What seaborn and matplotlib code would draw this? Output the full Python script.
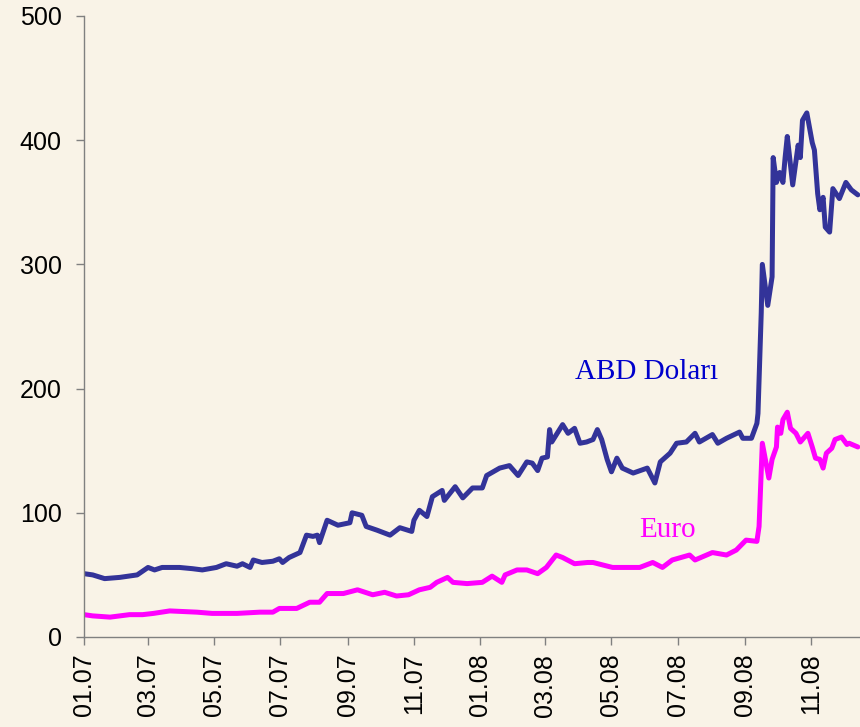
import matplotlib
matplotlib.use("Agg")
import matplotlib.pyplot as plt
import matplotlib.dates as mdates
import seaborn as sns
import pandas as pd

usd_dates = ["2007-01-01", "2007-01-09", "2007-01-20", "2007-02-03", "2007-02-19", "2007-03-01", "2007-03-07",
             "2007-03-14", "2007-03-30", "2007-04-11", "2007-04-20", "2007-05-03", "2007-05-12", "2007-05-22",
             "2007-05-27", "2007-06-03", "2007-06-06", "2007-06-14", "2007-06-24", "2007-06-30", "2007-07-03",
             "2007-07-09", "2007-07-19", "2007-07-25", "2007-07-31", "2007-08-04", "2007-08-06", "2007-08-13",
             "2007-08-23", "2007-09-03", "2007-09-05", "2007-09-14", "2007-09-18", "2007-09-28", "2007-10-10",
             "2007-10-19", "2007-10-30", "2007-11-01", "2007-11-06", "2007-11-13", "2007-11-18", "2007-11-27",
             "2007-11-29", "2007-12-09", "2007-12-16", "2007-12-25", "2008-01-03", "2008-01-07", "2008-01-19",
             "2008-01-28", "2008-02-05", "2008-02-13", "2008-02-18", "2008-02-23", "2008-02-27", "2008-03-03",
             "2008-03-05", "2008-03-07", "2008-03-17", "2008-03-22", "2008-03-28", "2008-04-02", "2008-04-08",
             "2008-04-14", "2008-04-18", "2008-04-22", "2008-04-27", "2008-05-01", "2008-05-06", "2008-05-11",
             "2008-05-21", "2008-06-03", "2008-06-10", "2008-06-15", "2008-06-24", "2008-06-30", "2008-07-09",
             "2008-07-17", "2008-07-21", "2008-08-02", "2008-08-07", "2008-08-15", "2008-08-27", "2008-08-30",
             "2008-09-07", "2008-09-12", "2008-09-13", "2008-09-16", "2008-09-17", "2008-09-22", "2008-09-26",
             "2008-09-27", "2008-09-30", "2008-10-03", "2008-10-06", "2008-10-08", "2008-10-10", "2008-10-15",
             "2008-10-20", "2008-10-22", "2008-10-24", "2008-10-28", "2008-11-02", "2008-11-04", "2008-11-07",
             "2008-11-09", "2008-11-12", "2008-11-14", "2008-11-18", "2008-11-21", "2008-11-27", "2008-12-03",
             "2008-12-08", "2008-12-14"]
usd_values = [51, 50, 47, 48, 50, 56, 54,
              56, 56, 55, 54, 56, 59, 57,
              59, 56, 62, 60, 61, 63, 60,
              64, 68, 82, 81, 82, 76, 94,
              90, 92, 100, 98, 89, 86, 82,
              88, 85, 94, 102, 97, 113, 118,
              110, 121, 112, 120, 120, 130, 136,
              138, 130, 141, 140, 134, 144, 145,
              167, 157, 171, 164, 168, 156, 157,
              159, 167, 159, 143, 133, 144, 136,
              132, 136, 124, 141, 148, 156, 157,
              164, 157, 163, 156, 160, 165, 160,
              160, 172, 180, 261, 300, 267, 290,
              386, 366, 374, 366, 386, 403, 364,
              396, 386, 416, 422, 398, 392, 357,
              344, 354, 330, 326, 361, 353, 366,
              360, 356]

eur_dates = ["2007-01-01", "2007-01-09", "2007-01-25", "2007-02-12", "2007-02-24", "2007-03-06", "2007-03-21",
             "2007-04-15", "2007-04-29", "2007-05-22", "2007-06-12", "2007-06-24", "2007-06-30", "2007-07-16",
             "2007-07-28", "2007-08-06", "2007-08-13", "2007-08-23", "2007-08-28", "2007-09-10", "2007-09-24",
             "2007-10-05", "2007-10-16", "2007-10-27", "2007-11-06", "2007-11-16", "2007-11-22", "2007-12-02",
             "2007-12-07", "2007-12-20", "2008-01-03", "2008-01-12", "2008-01-21", "2008-01-24", "2008-02-04",
             "2008-02-13", "2008-02-23", "2008-03-02", "2008-03-11", "2008-03-17", "2008-03-28", "2008-04-09",
             "2008-04-14", "2008-05-02", "2008-05-11", "2008-05-27", "2008-06-08", "2008-06-17", "2008-06-26",
             "2008-07-12", "2008-07-17", "2008-08-02", "2008-08-15", "2008-08-24", "2008-09-02", "2008-09-12",
             "2008-09-14", "2008-09-17", "2008-09-23", "2008-09-26", "2008-09-30", "2008-10-01", "2008-10-04",
             "2008-10-06", "2008-10-10", "2008-10-13", "2008-10-18", "2008-10-22", "2008-10-29", "2008-11-02",
             "2008-11-05", "2008-11-09", "2008-11-12", "2008-11-15", "2008-11-20", "2008-11-23", "2008-11-29",
             "2008-12-04", "2008-12-06", "2008-12-14"]
eur_values = [18, 17, 16, 18, 18, 19, 21,
              20, 19, 19, 20, 20, 23, 23,
              28, 28, 35, 35, 35, 38, 34,
              36, 33, 34, 38, 40, 44, 48,
              44, 43, 44, 49, 44, 50, 54,
              54, 51, 56, 66, 64, 59, 60,
              60, 56, 56, 56, 60, 56, 62,
              66, 62, 68, 66, 70, 78, 77,
              89, 156, 128, 143, 153, 169, 164,
              175, 181, 168, 164, 157, 164, 153,
              144, 143, 136, 148, 152, 159, 161,
              155, 156, 153]

series_names = ["ABD Doları", "Euro"]
series_colors = ["#333399", "#FF00FF"]
label_colors = ["#0000CC", "#FF00FF"]
x_start, x_end = "2007-01-01", "2008-12-16"
tick_dates = pd.date_range("2007-01-01", "2008-11-01", freq="2MS")

df = pd.concat([
    pd.DataFrame({"date": pd.to_datetime(usd_dates), "value": usd_values, "series": series_names[0]}),
    pd.DataFrame({"date": pd.to_datetime(eur_dates), "value": eur_values, "series": series_names[1]}),
])

bg = "#F9F3E7"
sns.set_style("white", {"axes.facecolor": bg, "figure.facecolor": bg})
plt.rcParams["font.family"] = ["Liberation Sans", "DejaVu Sans"]

fig = plt.figure(figsize=(8.6, 7.27), dpi=100)
ax = fig.add_axes([84 / 860, 1 - 637 / 727, 1 - 84 / 860, (637 - 16) / 727])

sns.lineplot(data=df, x="date", y="value", hue="series", palette=dict(zip(series_names, series_colors)),
             linewidth=3.6, estimator=None, sort=False, legend=False, ax=ax)

ax.set_xlim(pd.Timestamp(x_start), pd.Timestamp(x_end))
ax.set_ylim(0, 500)
ax.set_yticks(range(0, 501, 100))
ax.set_xticks(tick_dates)
ax.xaxis.set_major_formatter(mdates.DateFormatter("%m.%y"))
ax.set_xlabel("")
ax.set_ylabel("")
ax.tick_params(axis="both", labelsize=18, colors="#808080", labelcolor="black", length=6, width=1,
               direction="out", left=True, bottom=True)
ax.tick_params(axis="x", pad=6, labelrotation=90)
ax.tick_params(axis="y", pad=10)
for s in ["top", "right"]:
    ax.spines[s].set_visible(False)
for s in ["left", "bottom"]:
    ax.spines[s].set_color("#808080")
    ax.spines[s].set_linewidth(1)

ax.text(pd.Timestamp("2008-06-02"), 213, series_names[0], color=label_colors[0], fontsize=21,
        family=["Liberation Serif", "DejaVu Serif"], ha="center", va="center")
ax.text(pd.Timestamp("2008-06-22"), 86, series_names[1], color=label_colors[1], fontsize=21,
        family=["Liberation Serif", "DejaVu Serif"], ha="center", va="center")

fig.savefig("out.png", dpi=100, facecolor=bg)
